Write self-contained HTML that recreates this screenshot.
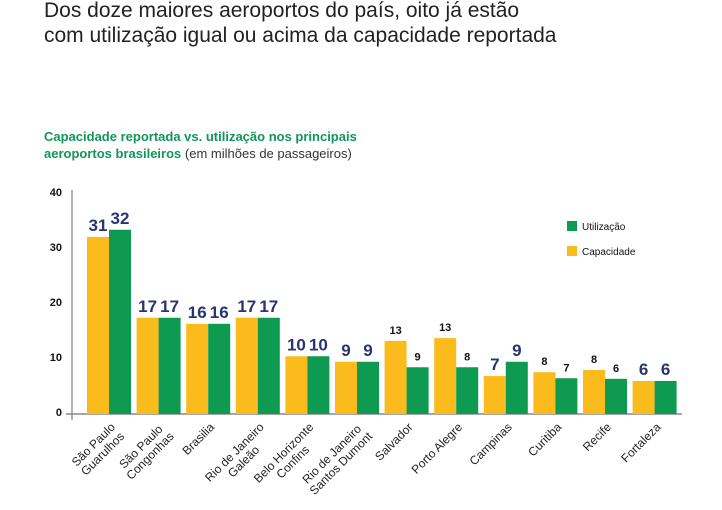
<!DOCTYPE html>
<html><head><meta charset="utf-8">
<style>
body{margin:0;background:#fff;width:722px;height:505px;overflow:hidden;font-family:"Liberation Sans",Arial,sans-serif}
</style></head>
<body>
<svg id="chart" width="722" height="505" xmlns="http://www.w3.org/2000/svg">
<text x="44" y="17" font-size="21" fill="#222">Dos doze maiores aeroportos do país, oito já estão</text>
<text x="44" y="42" font-size="21" fill="#222">com utilização igual ou acima da capacidade reportada</text>
<text x="44" y="141" font-size="13" font-weight="bold" fill="#12955a">Capacidade reportada vs. utilização nos principais</text>
<text x="44" y="158" font-size="13" fill="#12955a"><tspan font-weight="bold">aeroportos brasileiros</tspan> <tspan fill="#333">(em milhões de passageiros)</tspan></text>
<line x1="72" y1="190" x2="72" y2="420" stroke="#666" stroke-width="1"/>
<line x1="66" y1="414" x2="682" y2="414" stroke="#888" stroke-width="1.5"/>
<g id="ticks"></g><g id="bars"></g><g id="xlabels"></g>
<rect x="567" y="221" width="10" height="10" fill="#0e9a50"/>
<text x="582" y="230" font-size="10" fill="#111">Utilização</text>
<rect x="567" y="246" width="10" height="10" fill="#fbbb1d"/>
<text x="582" y="255" font-size="10" fill="#111">Capacidade</text>
</svg>
<script>
const categories=[["São Paulo","Guarulhos"],["São Paulo","Congonhas"],["Brasilia"],["Rio de Janeiro","Galeão"],["Belo Horizonte","Confins"],["Rio de Janeiro","Santos Dumont"],["Salvador"],["Porto Alegre"],["Campinas"],["Curitiba"],["Recife"],["Fortaleza"]];
const capacidade=[32.2,17.5,16.4,17.5,10.5,9.5,13.3,13.8,6.9,7.6,8,6];
const utilizacao=[33.5,17.5,16.4,17.5,10.5,9.5,8.5,8.5,9.5,6.5,6.4,6];
const capLabels=["31","17","16","17","10","9","13","13","7","8","8","6"];
const utiLabels=["32","17","16","17","10","9","9","8","9","7","6","6"];
const highlight=[true,true,true,true,true,true,false,false,true,false,false,true];
const yTicks=[0,10,20,30,40];
const NS="http://www.w3.org/2000/svg";
const y0=414, pxPer=5.5, x0=87, pitch=49.6, bw=22;
const yS=v=>y0-v*pxPer;
const xS=i=>x0+i*pitch;
function mk(tag,attrs,parent,txt){const e=document.createElementNS(NS,tag);for(const k in attrs)e.setAttribute(k,attrs[k]);if(txt!==undefined)e.textContent=txt;parent.appendChild(e);return e;}
const tg=document.getElementById('ticks');
yTicks.forEach(t=>{const e=mk('text',{x:62,y:yS(t)+2,'font-size':11,'font-weight':'bold','text-anchor':'end',fill:'#111'},tg,String(t));

});
const bg=document.getElementById('bars');
categories.forEach((c,i)=>{
 const x=xS(i);
 [[capacidade[i],capLabels[i],'#fbbb1d',x,'bar-capacidade'],[utilizacao[i],utiLabels[i],'#0e9a50',x+bw,'bar-utilizacao']].forEach(([v,lab,col,bx,nm])=>{
  const r=mk('rect',{x:bx,y:yS(v),width:bw,height:v*pxPer,fill:col},bg);
  
  
  const big=highlight[i];
  const t=mk('text',{x:bx+bw/2,y:yS(v)-(big?6:7),'font-size':big?17:11,'font-weight':'bold','text-anchor':'middle',fill:big?'#2a3470':'#111'},bg,lab);
  
  
 });
});
const lg=document.getElementById('xlabels');
categories.forEach((c,i)=>{
 const cx=xS(i)+bw+4, cy=425;
 const g=mk('g',{transform:`translate(${cx},${cy}) rotate(-45)`},lg);
 
 
 const ts=c.map((s,j)=>mk('text',{x:0,y:j*13+4,'font-size':12,fill:'#222','text-anchor':'end'},g,s));
 const ws=ts.map(t=>t.getComputedTextLength());const W=Math.max(...ws);
 ts.forEach((t,j)=>t.setAttribute('x',-(W-ws[j])/2));
});
</script>
</body></html>
